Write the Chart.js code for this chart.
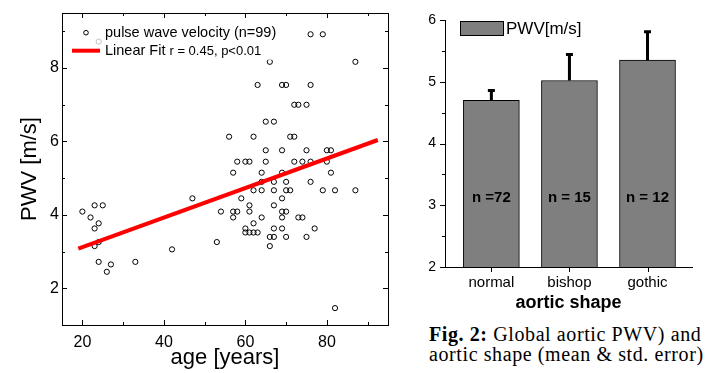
<!DOCTYPE html>
<html>
<head>
<meta charset="utf-8">
<script src="https://cdn.jsdelivr.net/npm/chart.js@4"></script>
<style>
  body { margin: 0; background: #fff; }
  #wrap { position: relative; width: 717px; height: 373px; overflow: hidden; }
  #scatter { position: absolute; left: 0; top: 0; }
  #bars { position: absolute; left: 400px; top: 0; }
  #caption {
    position: absolute; left: 429px; top: 324px;
    font: 20px/20px "Liberation Serif", "Times New Roman", serif;
    letter-spacing: 0.6px;
    color: #000; white-space: nowrap;
  }
</style>
</head>
<body>
<div id="wrap">
  <canvas id="scatter" width="400" height="373"></canvas>
  <canvas id="bars" width="317" height="318"></canvas>
  <div id="caption"><b>Fig. 2:</b> Global aortic PWV) and<br>aortic shape (mean &amp; std. error)</div>
</div>
<script>
// left panel: age vs pulse wave velocity
const ages = [20, 22, 23, 25, 23, 24, 23, 24, 24, 26,
  27, 33, 42, 47, 53, 54, 56, 57, 58, 57,
  58, 57, 59, 60, 61, 60, 60, 61, 62, 63,
  61, 61, 62, 63, 62, 62, 64, 64, 64, 64,
  65, 65, 65, 66, 66, 66, 67, 67, 67, 67,
  67, 67, 69, 70, 69, 69, 69, 69, 69, 69,
  70, 70, 70, 70, 71, 71, 72, 72, 73, 72,
  73, 74, 74, 75, 75, 75, 76, 79, 76, 76,
  76, 77, 79, 80, 81, 80, 81, 82, 82, 87,
  87, 24];
const pwv = [4.09, 3.93, 4.26, 4.26, 3.63, 3.77, 3.15, 3.26, 2.72, 2.45,
  2.65, 2.72, 3.06, 4.45, 3.26, 4.09, 6.13, 5.15, 5.45, 4.09,
  4.09, 3.93, 4.45, 5.45, 5.45, 3.63, 3.52, 3.52, 3.52, 3.52,
  4.26, 4.09, 6.13, 7.54, 4.67, 3.77, 5.15, 4.9, 4.67, 3.93,
  6.54, 5.76, 5.45, 8.17, 3.4, 3.15, 6.54, 4.9, 4.67, 4.26,
  3.63, 3.4, 7.54, 7.54, 5.76, 5.15, 4.45, 4.09, 3.93, 3.63,
  4.9, 4.67, 4.09, 3.4, 4.67, 6.13, 6.13, 7.0, 7.0, 5.45,
  3.93, 3.93, 5.45, 7.0, 5.76, 3.4, 8.92, 8.92, 7.54, 5.45,
  4.9, 3.63, 4.67, 5.76, 5.76, 5.45, 5.15, 4.67, 1.46, 8.17,
  4.67, 8.72];
const fitAges = [19, 92.5];
const fitPwv = [3.08, 6.04];
const ageTicks = [20, 40, 60, 80];
const ageMinor = [30, 50, 70, 90];
const pwvTicks = [2, 4, 6, 8];
const pwvMinor = [1, 3, 5, 7, 9];

// right panel: aortic shape groups
const shapes = ["normal", "bishop", "gothic"];
const shapeMeans = [4.70, 5.02, 5.35];
const shapeErrors = [0.16, 0.42, 0.46];
const shapeCounts = ["n =72", "n = 15", "n = 12"];
const barTicks = [2, 3, 4, 5, 6];
const barMinor = [2.5, 3.5, 4.5, 5.5];

Chart.defaults.font.family = "'Liberation Sans', Arial, sans-serif";
Chart.defaults.color = "#000";

function line(ctx, x1, y1, x2, y2) {
  ctx.moveTo(x1, y1);
  ctx.lineTo(x2, y2);
}

const scatterDecor = {
  id: "scatterDecor",
  afterDraw(chart) {
    const { ctx, chartArea: a, scales: { x, y } } = chart;
    ctx.save();
    ctx.strokeStyle = "#000";
    ctx.lineWidth = 1;
    ctx.strokeRect(a.left + 0.5, a.top + 0.5, a.right - a.left, a.bottom - a.top);
    ctx.beginPath();
    const ticksX = (vals, len) => vals.forEach((v) => {
      const px = Math.round(x.getPixelForValue(v)) + 0.5;
      line(ctx, px, a.bottom, px, a.bottom - len);
      line(ctx, px, a.top, px, a.top + len);
    });
    const ticksY = (vals, len) => vals.forEach((v) => {
      const py = Math.round(y.getPixelForValue(v)) + 0.5;
      line(ctx, a.left, py, a.left + len, py);
      line(ctx, a.right, py, a.right - len, py);
    });
    ticksX(ageTicks, 5);
    ticksX(ageMinor, 3);
    ticksY(pwvTicks, 5);
    ticksY(pwvMinor, 3);
    ctx.stroke();

    // legend
    ctx.fillStyle = "rgba(255,255,255,0.75)";
    ctx.fillRect(70, 22, 210, 38);
    ctx.beginPath();
    ctx.arc(86, 32.7, 2.3, 0, Math.PI * 2);
    ctx.stroke();
    ctx.strokeStyle = "#ff0000";
    ctx.lineWidth = 4;
    ctx.beginPath();
    line(ctx, 72, 50.7, 100, 50.7);
    ctx.stroke();
    ctx.fillStyle = "#000";
    ctx.textBaseline = "middle";
    ctx.font = "14.5px 'Liberation Sans', Arial, sans-serif";
    ctx.fillText("pulse wave velocity (n=99)", 105, 32.7);
    ctx.fillText("Linear Fit", 105, 50.7);
    const w = ctx.measureText("Linear Fit ").width;
    ctx.font = "13px 'Liberation Sans', Arial, sans-serif";
    ctx.fillText("r = 0.45, p<0.01", 105 + w, 51.5);
    ctx.restore();
  },
};

new Chart(document.getElementById("scatter"), {
  type: "scatter",
  data: {
    datasets: [
      {
        label: "Linear Fit",
        data: fitAges.map((a, i) => ({ x: a, y: fitPwv[i] })),
        showLine: true,
        borderColor: "#ff0000",
        borderWidth: 4,
        pointRadius: 0,
      },
      {
        label: "pulse wave velocity (n=99)",
        data: ages.map((a, i) => ({ x: a, y: pwv[i] })),
        pointStyle: "circle",
        pointRadius: 2.6,
        borderWidth: 1,
        borderColor: "#000",
        backgroundColor: "rgba(0,0,0,0)",
      },
    ],
  },
  options: {
    responsive: false,
    animation: false,
    layout: { padding: { top: 13, right: 12, left: 0, bottom: 0 } },
    plugins: { legend: { display: false }, tooltip: { enabled: false } },
    scales: {
      x: {
        type: "linear",
        min: 15,
        max: 95,
        afterBuildTicks: (s) => { s.ticks = ageTicks.map((v) => ({ value: v })); },
        afterFit: (s) => { s.height = 48; },
        grid: { display: false, drawTicks: false },
        border: { display: false },
        ticks: { padding: 8, font: { size: 16 } },
        title: { display: true, text: "age [years]", font: { size: 22 }, padding: { top: 0, bottom: 2 } },
      },
      y: {
        min: 1,
        max: 9.5,
        afterBuildTicks: (s) => { s.ticks = pwvTicks.map((v) => ({ value: v })); },
        afterFit: (s) => { s.width = 62; },
        grid: { display: false, drawTicks: false },
        border: { display: false },
        ticks: { padding: 3, font: { size: 16 } },
        title: { display: true, text: "PWV [m/s]", font: { size: 22 }, padding: { top: 17, bottom: 0 } },
      },
    },
  },
  plugins: [scatterDecor],
});

const barDecor = {
  id: "barDecor",
  afterDatasetsDraw(chart) {
    const { ctx, chartArea: a, scales: { x, y } } = chart;
    ctx.save();
    // error bars (upper half only)
    ctx.strokeStyle = "#000";
    ctx.lineWidth = 3;
    ctx.beginPath();
    shapes.forEach((s, i) => {
      const px = x.getPixelForValue(i + 1);
      const top = y.getPixelForValue(shapeMeans[i] + shapeErrors[i]);
      line(ctx, px, y.getPixelForValue(shapeMeans[i]), px, top);
      line(ctx, px - 3.5, top, px + 3.5, top);
    });
    ctx.stroke();
    // axis ticks, outward
    ctx.lineWidth = 1;
    ctx.beginPath();
    barTicks.forEach((v) => {
      const py = Math.round(y.getPixelForValue(v)) + 0.5;
      line(ctx, a.left, py, a.left - 5, py);
    });
    barMinor.forEach((v) => {
      const py = Math.round(y.getPixelForValue(v)) + 0.5;
      line(ctx, a.left, py, a.left - 3, py);
    });
    shapes.forEach((s, i) => {
      const px = Math.round(x.getPixelForValue(i + 1)) + 0.5;
      line(ctx, px, a.bottom, px, a.bottom + 5);
    });
    ctx.stroke();
    // group sizes
    ctx.fillStyle = "#000";
    ctx.textAlign = "center";
    ctx.textBaseline = "middle";
    ctx.font = "bold 15px 'Liberation Sans', Arial, sans-serif";
    shapeCounts.forEach((t, i) => ctx.fillText(t, x.getPixelForValue(i + 1), y.getPixelForValue(3.12)));
    // legend
    ctx.fillStyle = "#7f7f7f";
    ctx.fillRect(60.5, 21.5, 43, 14);
    ctx.strokeRect(60.5, 21.5, 43, 14);
    ctx.fillStyle = "#000";
    ctx.textAlign = "left";
    ctx.font = "17px 'Liberation Sans', Arial, sans-serif";
    ctx.fillText("PWV[m/s]", 106, 29);
    ctx.restore();
  },
};

new Chart(document.getElementById("bars"), {
  type: "bar",
  data: {
    datasets: [
      {
        label: "PWV[m/s]",
        data: shapes.map((s, i) => ({ x: i + 1, y: shapeMeans[i] })),
        backgroundColor: "#7f7f7f",
        borderColor: "#000",
        borderWidth: 1,
        borderSkipped: false,
        barThickness: 56,
      },
    ],
  },
  options: {
    responsive: false,
    animation: false,
    layout: { padding: { top: 20, right: 25, left: 0, bottom: 0 } },
    plugins: { legend: { display: false }, tooltip: { enabled: false } },
    scales: {
      x: {
        type: "linear",
        min: 0.406,
        max: 3.57,
        offset: false,
        afterBuildTicks: (s) => { s.ticks = shapes.map((c, i) => ({ value: i + 1 })); },
        afterFit: (s) => { s.height = 51; },
        grid: { display: false, drawTicks: false },
        border: { display: true, color: "#000", width: 1 },
        ticks: { padding: 7, font: { size: 15 }, callback: (v) => shapes[v - 1] },
        title: { display: true, text: "aortic shape", font: { size: 18, weight: "bold" }, padding: { top: 0, bottom: 4 } },
      },
      y: {
        min: 2,
        max: 6,
        afterBuildTicks: (s) => { s.ticks = barTicks.map((v) => ({ value: v })); },
        afterFit: (s) => { s.width = 45; },
        grid: { display: false, drawTicks: false },
        border: { display: true, color: "#000", width: 1 },
        ticks: { padding: 9, font: { size: 14 } },
      },
    },
  },
  plugins: [barDecor],
});
</script>
</body>
</html>
